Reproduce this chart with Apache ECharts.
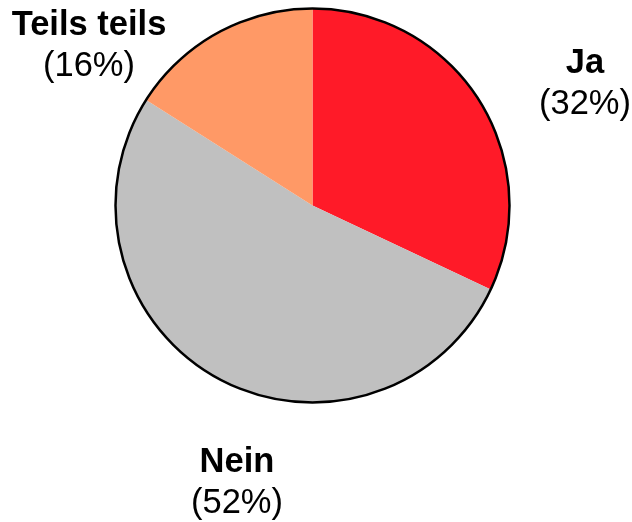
<!DOCTYPE html>
<html>
<head>
<meta charset="utf-8">
<script src="https://cdn.jsdelivr.net/npm/echarts@6/dist/echarts.min.js"></script>
<style>
  html, body { margin: 0; padding: 0; background: #fff; }
  #chart { width: 632px; height: 522px; }
</style>
</head>
<body>
<div id="chart"></div>
<script>
// Answer categories and their shares (percent)
const categories = ['Ja', 'Nein', 'Teils teils'];
const shares = [32, 52, 16];
const colors = ['#FF1A28', '#C0C0C0', '#FF9966'];

// Where each two-line label sits (centre of the text block)
const labelSpots = [[585, 84], [237, 483], [89, 46]];

const chart = echarts.init(document.getElementById('chart'), null, { renderer: 'canvas' });

const center = [312.5, 205.5];
const radius = 197;
const font = 'Liberation Sans, Arial, sans-serif';

chart.setOption({
  animation: false,
  backgroundColor: '#ffffff',
  series: [
    {
      type: 'pie',
      center: center,
      radius: radius,
      startAngle: 90,
      clockwise: true,
      silent: true,
      itemStyle: { borderWidth: 0 },
      data: categories.map((name, i) => ({
        name: name,
        value: shares[i],
        itemStyle: { color: colors[i] }
      })),
      label: {
        show: true,
        position: 'outside',
        formatter: p => '{n|' + p.name + '}\n{p|(' + p.value + '%)}',
        rich: {
          n: { fontFamily: font, fontSize: 34.5, fontWeight: 'bold', color: '#000', lineHeight: 41, align: 'center' },
          p: { fontFamily: font, fontSize: 34.5, color: '#000', lineHeight: 41, align: 'center' }
        }
      },
      labelLine: { show: false },
      labelLayout: params => ({
        x: labelSpots[params.dataIndex][0],
        y: labelSpots[params.dataIndex][1],
        align: 'center',
        verticalAlign: 'middle'
      })
    },
    {
      // outer outline of the pie
      type: 'pie',
      center: center,
      radius: radius,
      silent: true,
      label: { show: false },
      labelLine: { show: false },
      itemStyle: { color: 'transparent', borderColor: '#000', borderWidth: 2.5 },
      data: [{ value: 1 }]
    }
  ]
});
</script>
</body>
</html>
